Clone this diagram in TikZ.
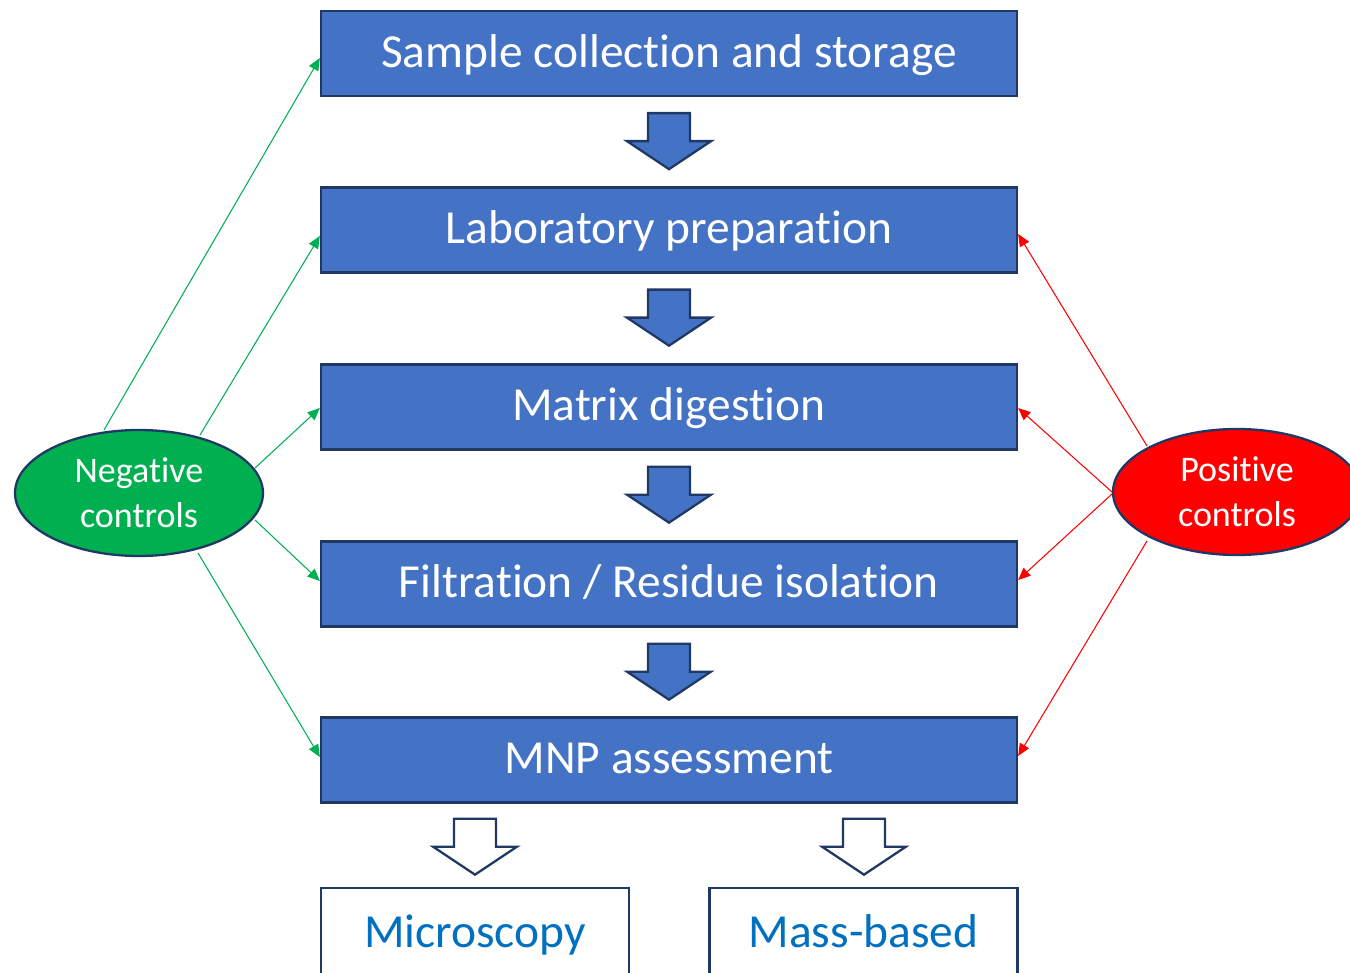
\documentclass[tikz,border=0pt]{standalone}
\usepackage{fontspec}
\setmainfont{Carlito}[Ligatures={NoCommon}]
\usetikzlibrary{calc,shapes.geometric,arrows.meta}
\definecolor{boxblue}{HTML}{4472C4}
\definecolor{navy}{HTML}{1F3864}
\definecolor{negc}{HTML}{00B050}
\definecolor{posc}{HTML}{FF0000}
\definecolor{txtblue}{HTML}{0070C0}
\tikzset{
  stepbox/.style={draw=navy, line width=1.3pt, fill=boxblue, text=white,
    minimum width=696*0.02cm, minimum height=85*0.02cm, inner sep=0pt,
    text height=21.6pt, text depth=5.9pt,
    font=\fontsize{27}{32}\selectfont},
  outbox/.style={draw=navy, line width=1.3pt, fill=white,
    minimum width=308*0.02cm, minimum height=120*0.02cm, inner sep=0pt},
  outtext/.style={text=txtblue, anchor=base, inner sep=0pt,
    font=\fontsize{27}{32}\selectfont},
  ctrl/.style={ellipse, draw=navy, line width=1.3pt, text=white, inner sep=0pt,
    minimum width=248*0.02cm, minimum height=126*0.02cm, align=center,
    font=\fontsize{20.5}{25.5}\selectfont},
  negline/.style={draw=negc, line width=0.6pt, -{Triangle[length=7pt,width=6pt]}},
  posline/.style={draw=posc, line width=0.6pt, -{Triangle[length=7pt,width=6pt]}},
  pics/downarrow/.style={code={
    \draw[pic actions, line width=1.3pt, draw=navy, line join=miter]
      (-21,0) -- (21,0) -- (21,28) -- (42,28) -- (0,56) -- (-42,28) -- (-21,28) -- cycle;}},
}
\begin{document}
\begin{tikzpicture}[x=0.02cm, y=-0.02cm]
\clip (0,0) rectangle (1350,973);
\node[stepbox] (b1) at (669,53.5) {Sample collection and storage};
\node[stepbox] (b2) at (669,230) {Laboratory preparation};
\node[stepbox] (b3) at (669,407) {Matrix digestion};
\node[stepbox] (b4) at (669,584) {Filtration / Residue isolation};
\node[stepbox] (b5) at (669,760) {MNP assessment};
\node[outbox] (m1) at (475,948) {};
\node[outbox] (m2) at (863.5,948) {};
\node[outtext] (m1t) at (475,947) {Microscopy};
\node[outtext] (m2t) at (863.5,947) {Mass-based};

\pic[fill=boxblue] at ($(b1.south)+(0,16)$) {downarrow};
\pic[fill=boxblue] at ($(b2.south)+(0,16)$) {downarrow};
\pic[fill=boxblue] at ($(b3.south)+(0,16)$) {downarrow};
\pic[fill=boxblue] at ($(b4.south)+(0,16)$) {downarrow};
\pic[fill=white] at ($(b5.south)+(-194,15)$) {downarrow};
\pic[fill=white] at ($(b5.south)+(195,15)$) {downarrow};

\node[ctrl, fill=negc] (neg) at (139,493) {Negative\\controls};
\node[ctrl, fill=posc] (pos) at (1237,492) {Positive\\controls};

\coordinate (n1s) at (104,430);
\coordinate (n2s) at (200,435);
\coordinate (n3s) at (255,468);
\coordinate (n4s) at (255,520);
\coordinate (n5s) at (198,553);
\draw[negline] (n1s) -- (b1.west |- 0,58);
\draw[negline] (n2s) -- (b2.west |- 0,236);
\draw[negline] (n3s) -- (b3.west |- 0,408);
\draw[negline] (n4s) -- (b4.west |- 0,581);
\draw[negline] (n5s) -- (b5.west |- 0,757);

\coordinate (p1s) at (1147,446);
\coordinate (p2s) at (1112,492);
\coordinate (p4s) at (1112,494);
\coordinate (p5s) at (1147,541);
\draw[posline] (p1s) -- (b2.east |- 0,234);
\draw[posline] (p2s) -- (b3.east |- 0,408);
\draw[posline] (p4s) -- (b4.east |- 0,580);
\draw[posline] (p5s) -- (b5.east |- 0,756);
\end{tikzpicture}
\end{document}
